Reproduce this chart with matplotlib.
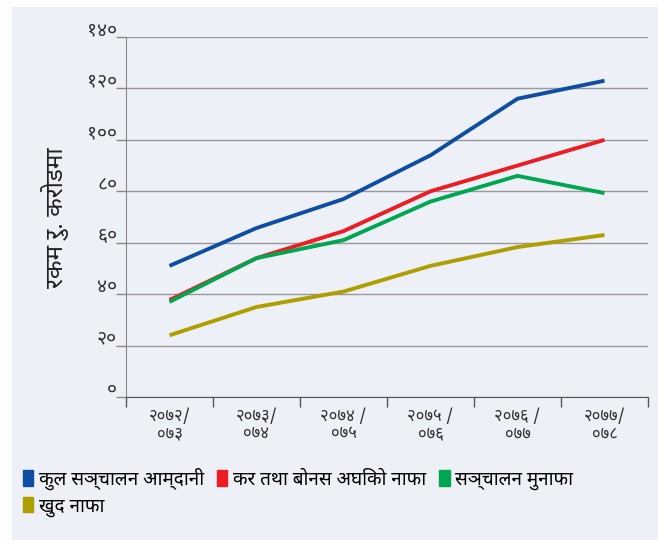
import matplotlib.pyplot as plt
from matplotlib.patches import Patch, Rectangle
import matplotlib.transforms as mtransforms

plt.rcParams['font.family'] = ['Noto Sans Devanagari', 'Lohit Devanagari', 'Mukta', 'FreeSans', 'Noto Sans', 'DejaVu Sans']

years = ['२०७२/\n०७३', '२०७३/\n०७४', '२०७४ /\n०७५', '२०७५ /\n०७६', '२०७६ /\n०७७', '२०७७/\n०७८']
total_income = [51, 65.7, 77, 94, 116, 123]
profit_before_tax = [37.7, 54, 64.5, 80, 90, 100]
operating_profit = [37, 54, 61, 76, 86, 79.3]
net_profit = [24, 35, 41, 51, 58.3, 63]
yticks = [0, 20, 40, 60, 80, 100, 120, 140]
ytick_labels = ['०', '२०', '४०', '६०', '८०', '१००', '१२०', '१४०']

names = ['कुल सञ्चालन आम्दानी', 'कर तथा बोनस अघिको नाफा', 'सञ्चालन मुनाफा', 'खुद नाफा']
colors = ['#0D4EA2', '#EE1D24', '#00A651', '#AE9E00']
bg = '#EDF0F7'

fig = plt.figure(figsize=(6.58, 5.40), dpi=100)
fig.patches.append(Rectangle((12 / 658, 0), 1, 1 - 7 / 540, transform=fig.transFigure,
                             facecolor=bg, edgecolor='none', zorder=-10))

ax = fig.add_axes([126 / 658, 1 - 397 / 540, 522 / 658, 360 / 540])
ax.set_facecolor(bg)

x = list(range(len(years)))
for vals, c in zip([total_income, profit_before_tax, operating_profit, net_profit], colors):
    ax.plot(x, vals, color=c, lw=2.8, solid_capstyle='butt', zorder=3)

ax.set_xlim(-0.5, len(years) - 0.5)
ax.set_ylim(0, 140)
ax.set_yticks(yticks)
ax.set_yticklabels([])
ax.tick_params(axis='y', length=7, color='#888888', width=1)
trans = mtransforms.blended_transform_factory(ax.transAxes, ax.transData)
for y, lab in zip(yticks, ytick_labels):
    ax.text(-0.017, y - 1.2, lab, transform=trans,
            ha='right', va='bottom', fontsize=14, color='#333333')
ax.grid(axis='y', color='#999999', lw=1)
ax.set_axisbelow(True)
for s in ['top', 'right']:
    ax.spines[s].set_visible(False)
ax.spines['left'].set_color('#888888')
ax.spines['bottom'].set_color('#555555')

# category boundaries carry the tick marks, labels sit between them
ax.set_xticks([i - 0.5 for i in range(len(years) + 1)])
ax.set_xticklabels([])
ax.tick_params(axis='x', length=7, color='#555555', width=1)
ax.set_xticks(x, minor=True)
ax.set_xticklabels(years, minor=True, fontsize=12, color='#333333', linespacing=1.15)
ax.tick_params(axis='x', which='minor', length=0, pad=8)

fig.text(55 / 658, 1 - 218 / 540, 'रकम रु. करोडमा', rotation=90, ha='center', va='center',
         fontsize=17.5, color='#222222')

handles = [Patch(color=c) for c in colors]
order = [0, 3, 1, 2]
fig.legend([handles[i] for i in order], [names[i] for i in order], ncol=3,
           loc='upper left', bbox_to_anchor=(15 / 658, 1 - 460 / 540), frameon=False,
           fontsize=13.6, handlelength=0.55, handleheight=0.85, handletextpad=0.3,
           columnspacing=0.7, labelspacing=0.4, borderaxespad=0)

fig.savefig('out.png', dpi=100)
